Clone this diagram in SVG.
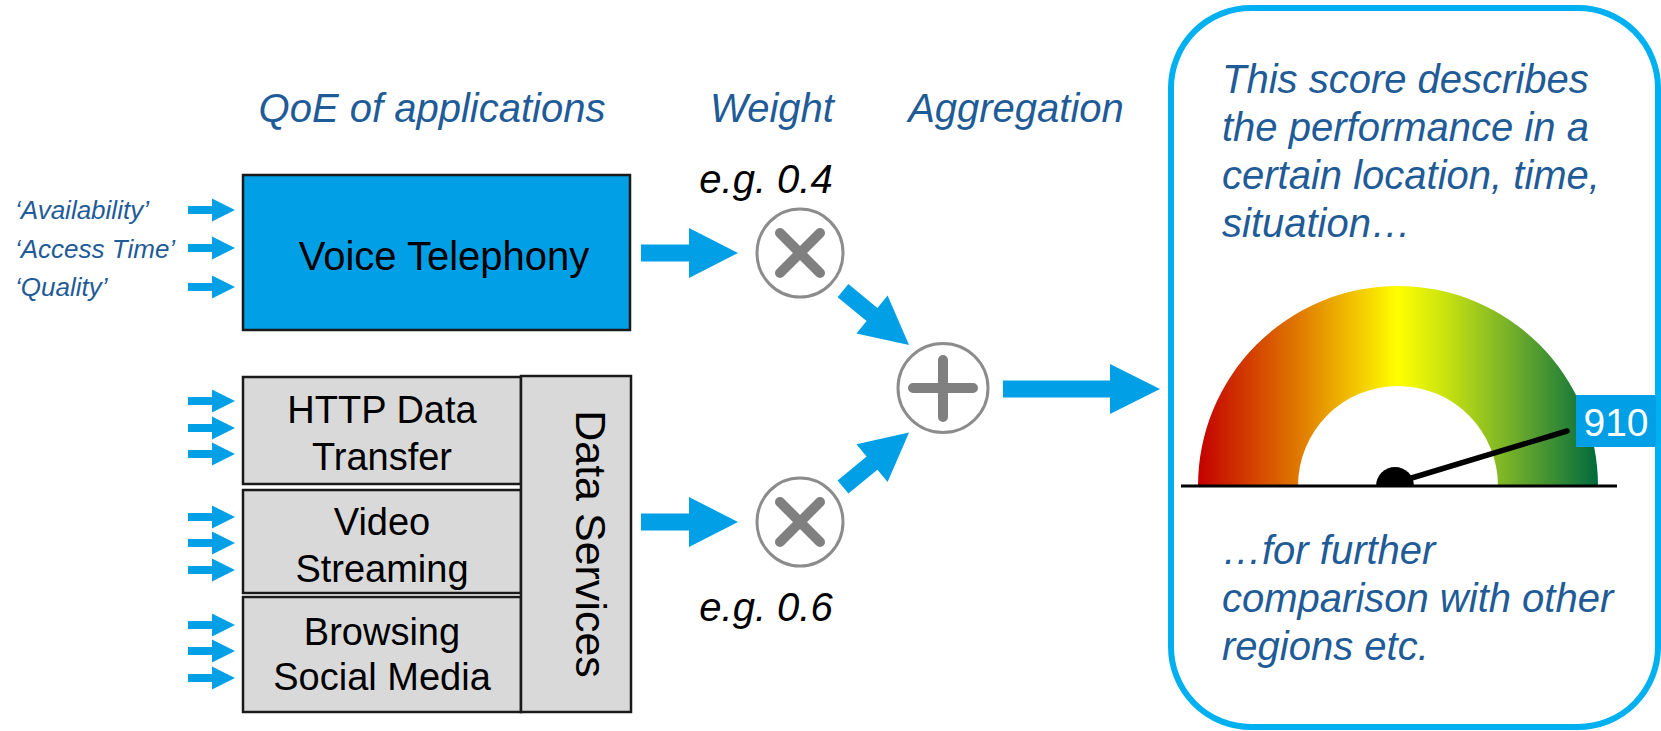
<svg xmlns="http://www.w3.org/2000/svg" xmlns:xlink="http://www.w3.org/1999/xlink" width="1661" height="731" viewBox="0 0 1661 731">
  <style>
    .hdr { font-family: "Liberation Sans", Arial, sans-serif; font-style: italic; font-size: 40px; fill: #1F5B97; }
    .lbl { font-family: "Liberation Sans", Arial, sans-serif; font-style: italic; font-size: 26px; fill: #1F5B97; }
    .wt { font-family: "Liberation Sans", Arial, sans-serif; font-style: italic; font-size: 40px; fill: #000; }
    .box { font-family: "Liberation Sans", Arial, sans-serif; font-size: 38px; fill: #000; text-anchor: middle; }
    .blue { fill: #009FE6; }
    .grey { fill: #D9D9D9; stroke: #1A1A1A; stroke-width: 2.5; }
    .op { fill: #FFFFFF; stroke: #8C8C8C; stroke-width: 3; }
    .sym { stroke: #808080; stroke-width: 10; stroke-linecap: round; fill: none; }
  </style>
  <defs>
    <path id="inArrow" d="M0,-4 H24 V-11.5 L47,0 L24,11.5 V4 H0 Z"/>
    <path id="bigArrow" d="M0,-8.5 H48 V-25 L97,0 L48,25 V8.5 H0 Z"/>
    <linearGradient id="gaugeGrad" gradientUnits="userSpaceOnUse" x1="1198" y1="0" x2="1598" y2="0">
      <stop offset="0" stop-color="#C40000"/>
      <stop offset="0.25" stop-color="#E07800"/>
      <stop offset="0.5" stop-color="#FFFF00"/>
      <stop offset="0.62" stop-color="#C8E210"/>
      <stop offset="0.8" stop-color="#6AAA2C"/>
      <stop offset="1" stop-color="#006A3C"/>
    </linearGradient>
  </defs>

  <!-- column headers -->
  <g id="headers">
    <text class="hdr" x="432" y="122" text-anchor="middle">QoE of applications</text>
    <text class="hdr" x="772" y="122" text-anchor="middle">Weight</text>
    <text class="hdr" x="1016" y="122" text-anchor="middle">Aggregation</text>
  </g>

  <!-- KPI input labels -->
  <g id="kpi-labels">
    <text class="lbl" x="15" y="219">‘Availability’</text>
    <text class="lbl" x="15" y="258">‘Access Time’</text>
    <text class="lbl" x="15" y="296">‘Quality’</text>
  </g>

  <!-- Voice service -->
  <g id="voice-telephony">
    <rect x="243" y="175" width="387" height="155" fill="#009FE6" stroke="#1A1A1A" stroke-width="2.5"/>
    <text class="box" x="444" y="270" style="font-size:40px">Voice Telephony</text>
  </g>

  <!-- Data services -->
  <g id="http-data-transfer">
    <rect class="grey" x="243" y="377" width="278" height="107"/>
    <text class="box" x="382" y="423">HTTP Data</text>
    <text class="box" x="382" y="470">Transfer</text>
  </g>
  <g id="video-streaming">
    <rect class="grey" x="243" y="490" width="278" height="103"/>
    <text class="box" x="382" y="535">Video</text>
    <text class="box" x="382" y="582">Streaming</text>
  </g>
  <g id="browsing-social-media">
    <rect class="grey" x="243" y="597" width="278" height="115"/>
    <text class="box" x="382" y="645">Browsing</text>
    <text class="box" x="382" y="690">Social Media</text>
  </g>
  <g id="data-services">
    <rect class="grey" x="521" y="376" width="110" height="336"/>
    <text class="box" style="font-size:43px" transform="translate(576,544) rotate(90)">Data Services</text>
  </g>

  <!-- weighting operators -->
  <g id="weight-voice">
    <text class="wt" x="766" y="193" text-anchor="middle">e.g. 0.4</text>
    <ellipse class="op" cx="800" cy="253" rx="43" ry="44"/>
    <path class="sym" d="M780,233 L820,273 M820,233 L780,273"/>
  </g>
  <g id="weight-data">
    <text class="wt" x="766" y="621" text-anchor="middle">e.g. 0.6</text>
    <ellipse class="op" cx="800" cy="522" rx="43" ry="44"/>
    <path class="sym" d="M780,502 L820,542 M820,502 L780,542"/>
  </g>

  <!-- aggregation operator -->
  <g id="aggregation">
    <ellipse class="op" cx="943" cy="388" rx="45" ry="44.5"/>
    <path class="sym" d="M913,388 H973 M943,360 V417"/>
  </g>

  <!-- connectors -->
  <g id="connectors" class="blue">
    <use xlink:href="#inArrow" x="188" y="210"/>
    <use xlink:href="#inArrow" x="188" y="248"/>
    <use xlink:href="#inArrow" x="188" y="287"/>

    <use xlink:href="#inArrow" x="188" y="401"/>
    <use xlink:href="#inArrow" x="188" y="428"/>
    <use xlink:href="#inArrow" x="188" y="454"/>

    <use xlink:href="#inArrow" x="188" y="517"/>
    <use xlink:href="#inArrow" x="188" y="543"/>
    <use xlink:href="#inArrow" x="188" y="570"/>

    <use xlink:href="#inArrow" x="188" y="625"/>
    <use xlink:href="#inArrow" x="188" y="651"/>
    <use xlink:href="#inArrow" x="188" y="678"/>

    <use xlink:href="#bigArrow" x="641" y="253"/>
    <use xlink:href="#bigArrow" x="641" y="522"/>

    <path d="M0,-8.5 H37.6 V-24.5 L85.6,0 L37.6,24.5 V8.5 H0 Z" transform="translate(843,290.6) rotate(39.5)"/>
    <path d="M0,-8.5 H37.6 V-24.5 L85.6,0 L37.6,24.5 V8.5 H0 Z" transform="translate(843,487) rotate(-39.5)"/>

    <path d="M1003,380.5 H1110 V364 L1160,389 L1110,414 V397.5 H1003 Z"/>
  </g>

  <!-- score panel -->
  <g id="score-panel">
    <rect x="1171" y="8" width="487" height="719" rx="80" ry="80" fill="#FFFFFF" stroke="#00B0F0" stroke-width="6"/>
    <text class="hdr" x="1222" y="93">This score describes</text>
    <text class="hdr" x="1222" y="141">the performance in a</text>
    <text class="hdr" x="1222" y="189">certain location, time,</text>
    <text class="hdr" x="1222" y="237">situation…</text>

    <path d="M1198,486 A200,200 0 0 1 1598,486 L1498,486 A100,100 0 0 0 1298,486 Z" fill="url(#gaugeGrad)"/>
    <line x1="1395" y1="483" x2="1567" y2="431" stroke="#000" stroke-width="5.5" stroke-linecap="round"/>
    <path d="M1376,486 A19,19 0 0 1 1414,486 Z" fill="#000"/>
    <line x1="1181" y1="486" x2="1617" y2="486" stroke="#000" stroke-width="3"/>
    <rect x="1576" y="395" width="80" height="52" fill="#009FE6"/>
    <text x="1616" y="436" text-anchor="middle" font-family="Liberation Sans, Arial, sans-serif" font-size="39" fill="#FFFFFF">910</text>

    <text class="hdr" x="1222" y="564">…for further</text>
    <text class="hdr" x="1222" y="612">comparison with other</text>
    <text class="hdr" x="1222" y="660">regions etc.</text>
  </g>
</svg>
